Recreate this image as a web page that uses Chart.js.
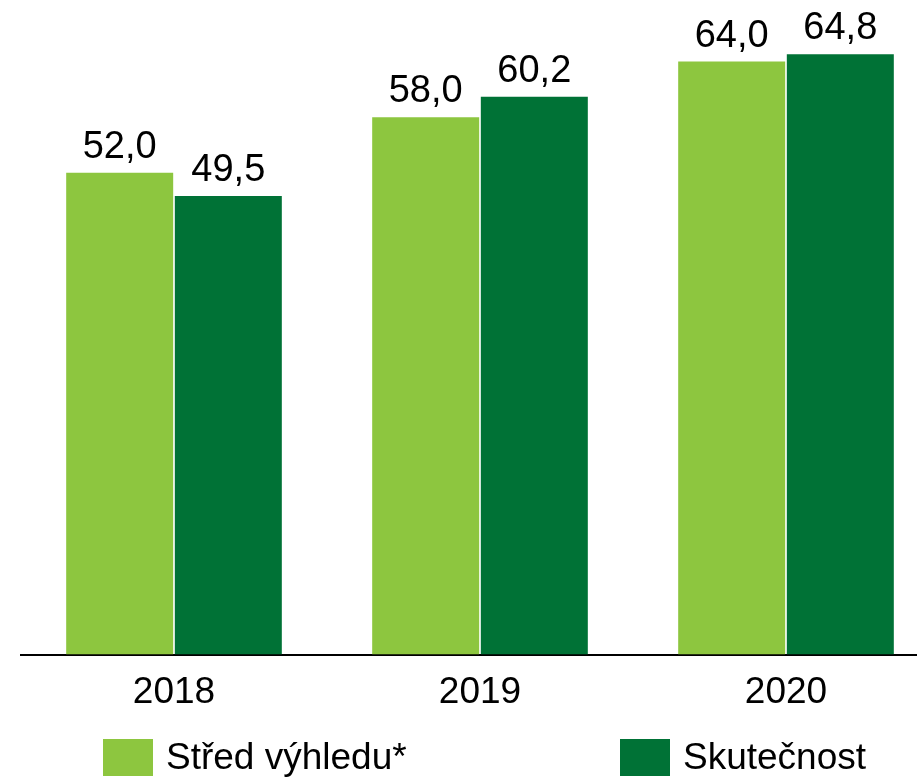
<!DOCTYPE html>
<html>
<head>
<meta charset="utf-8">
<script src="https://cdn.jsdelivr.net/npm/chart.js@4"></script>
<style>
  html, body { margin: 0; padding: 0; overflow: hidden; background: #fff; }
  #wrap { width: 940px; height: 778px; }
</style>
</head>
<body>
<div id="wrap"><canvas id="chart"></canvas></div>
<script>
const years = ['2018', '2019', '2020'];
const outlook = [52.0, 58.0, 64.0];
const actual = [49.5, 60.2, 64.8];
const seriesNames = ['Střed výhledu*', 'Skutečnost'];
const colors = ['#8DC63F', '#007236'];

const FONT = '"Liberation Sans", Arial, sans-serif';

// values above bars, czech decimal comma
const valueLabels = {
    id: 'valueLabels',
    afterDatasetsDraw(chart) {
        const ctx = chart.ctx;
        ctx.save();
        ctx.font = '38px ' + FONT;
        ctx.fillStyle = '#000';
        ctx.textAlign = 'center';
        ctx.textBaseline = 'alphabetic';
        chart.data.datasets.forEach((ds, i) => {
            chart.getDatasetMeta(i).data.forEach((bar, j) => {
                ctx.fillText(ds.data[j].toFixed(1).replace('.', ','), bar.x, bar.y - 15);
            });
        });
        ctx.restore();
    }
};

// legend drawn at the bottom, two items spread apart
const bottomLegend = {
    id: 'bottomLegend',
    afterDraw(chart) {
        const ctx = chart.ctx;
        const starts = [103, 620];
        const top = 739;
        ctx.save();
        ctx.font = '37px ' + FONT;
        ctx.textBaseline = 'middle';
        chart.data.datasets.forEach((ds, i) => {
            ctx.fillStyle = ds.backgroundColor;
            ctx.fillRect(starts[i], top, 50, 37);
            ctx.fillStyle = '#000';
            ctx.fillText(ds.label, starts[i] + 63, top + 20);
        });
        ctx.restore();
    }
};

new Chart(document.getElementById('chart'), {
    type: 'bar',
    data: {
        labels: years,
        datasets: [
            { label: seriesNames[0], data: outlook, backgroundColor: colors[0] },
            { label: seriesNames[1], data: actual, backgroundColor: colors[1] }
        ]
    },
    options: {
        responsive: true,
        maintainAspectRatio: false,
        animation: false,
        categoryPercentage: 0.71,
        barPercentage: 0.985,
        layout: { padding: { left: 21, right: 1, top: 6, bottom: 55 } },
        scales: {
            x: {
                grid: { display: false },
                border: { display: true, color: '#000', width: 2 },
                ticks: { color: '#000', font: { size: 37, family: FONT }, padding: 8 }
            },
            y: {
                display: false,
                min: 0,
                max: 70
            }
        },
        plugins: {
            legend: { display: false },
            tooltip: { enabled: false }
        }
    },
    plugins: [valueLabels, bottomLegend]
});
</script>
</body>
</html>
